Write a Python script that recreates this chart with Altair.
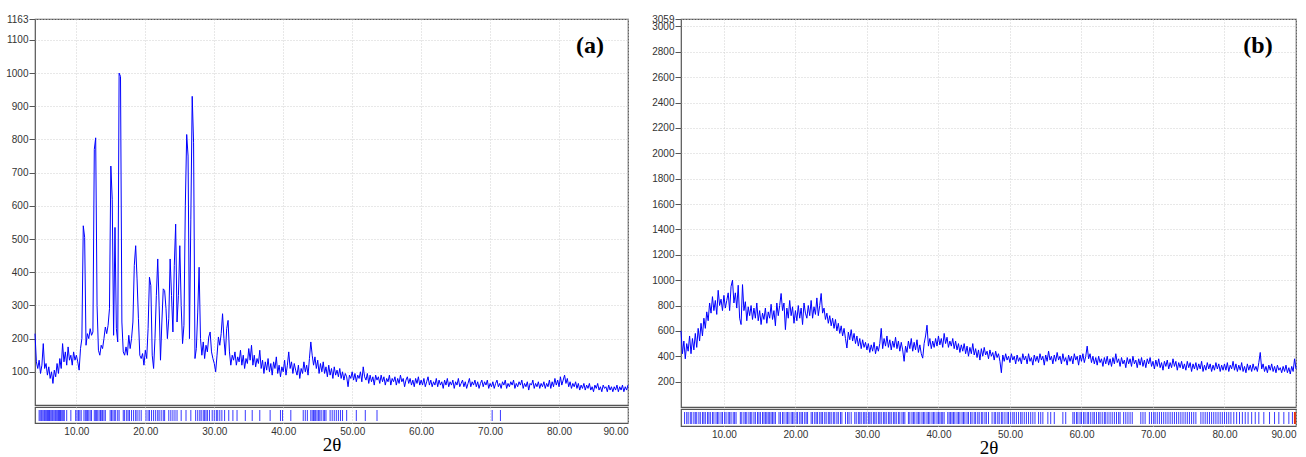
import altair as alt
import pandas as pd

# ---------------- data ----------------
X_START = 4.0
X_STEP = 0.2

# panel (a): intensity every 0.2 deg from 4.0 to 90.0
a_int = [
    215,130,110,135,95,120,185,110,125,90,
    115,80,100,65,105,85,125,95,140,110,
    185,130,160,120,175,135,150,120,160,135,
    150,130,105,170,200,540,505,180,215,200,
    230,210,220,770,805,300,165,150,180,170,
    200,235,215,240,290,720,620,210,535,230,
    190,1000,990,250,160,150,175,150,210,170,
    200,250,420,480,380,260,150,140,155,120,
    165,140,230,385,360,150,110,200,330,440,
    300,135,250,350,345,290,200,260,440,330,
    220,420,545,250,330,480,300,185,240,600,
    815,750,200,560,930,790,140,170,280,415,
    200,150,190,140,180,160,205,220,160,140,
    125,100,150,205,180,215,275,200,150,230,
    255,160,120,150,135,160,120,145,130,165,
    120,150,110,140,125,170,135,180,120,150,
    115,140,125,165,110,135,95,130,105,140,
    100,125,90,130,110,145,95,120,85,115,
    100,135,90,120,160,110,130,95,125,105,
    90,120,80,110,95,130,100,120,90,140,
    190,150,120,145,110,135,95,125,100,130,
    95,115,85,120,90,110,80,115,90,105,
    85,110,80,100,75,95,85,55,90,80,
    100,75,95,70,90,80,100,70,115,85,
    75,95,65,90,70,85,60,90,75,85,
    65,90,70,85,60,80,70,90,60,80,
    70,85,60,80,65,90,70,80,55,75,
    85,65,80,60,75,55,80,65,85,60,
    75,60,80,55,70,85,60,75,55,70,
    60,80,55,75,60,70,50,75,60,80,
    55,70,60,75,50,70,60,80,55,65,
    75,55,70,50,65,80,55,70,60,75,
    55,70,50,65,75,55,70,60,75,50,
    65,55,70,50,65,75,55,65,50,70,
    60,75,50,65,55,70,60,75,50,65,
    55,70,60,75,50,65,55,70,45,65,
    60,75,50,65,55,70,50,65,55,70,
    50,65,55,75,50,70,55,80,60,75,
    55,85,60,75,90,65,80,55,70,50,
    65,55,70,50,65,45,60,50,65,45,
    60,50,65,45,55,40,60,50,65,45,
    55,40,60,50,55,40,60,45,55,40,
    55,45,60,40,55,45,60,40,55,45,
    60,
]

# panel (b): intensity every 0.2 deg from 4.0 to 90.0
b_int = [
    600,420,520,380,500,440,560,420,540,450,
    580,470,620,520,660,560,700,620,750,680,
    820,740,870,760,840,730,920,800,850,760,
    880,780,840,900,760,950,1000,820,900,780,
    960,700,650,965,760,830,680,790,720,800,
    690,780,700,820,680,760,650,740,690,780,
    660,750,700,810,690,760,640,820,720,800,
    895,760,820,610,780,700,840,720,790,660,
    760,680,800,700,780,650,820,740,700,800,
    720,840,700,790,730,860,720,800,895,740,
    780,690,740,660,720,640,700,620,690,600,
    660,580,640,560,620,540,465,590,530,610,
    520,580,500,560,480,540,460,530,470,510,
    450,500,430,490,440,510,420,480,440,500,
    620,460,540,480,560,470,530,450,520,470,
    550,460,520,440,510,450,360,480,430,520,
    460,540,440,510,450,530,430,490,420,385,
    500,560,645,480,540,460,520,470,540,480,
    560,490,540,470,580,500,550,470,520,480,
    540,460,520,450,500,430,490,440,500,420,
    480,400,470,420,500,410,460,390,450,370,
    460,400,470,410,440,380,450,400,430,370,
    440,390,420,360,270,410,360,420,370,400,
    350,420,370,400,340,410,360,390,340,420,
    370,400,340,420,360,390,330,410,360,400,
    350,420,370,400,330,410,360,440,370,400,
    340,410,360,430,370,400,340,420,360,390,
    330,410,360,400,340,420,370,400,330,410,
    360,420,350,400,480,380,420,350,400,340,
    390,330,400,350,380,320,390,340,400,330,
    380,320,390,340,420,350,380,320,390,340,
    370,310,390,340,380,320,400,340,370,310,
    380,330,390,320,370,310,380,340,390,320,
    360,300,370,320,380,310,350,290,360,320,
    370,300,350,310,380,320,360,290,350,310,
    360,300,340,290,360,310,350,280,340,300,
    350,290,340,300,360,280,330,290,350,300,
    340,280,330,290,350,300,340,280,330,290,
    340,290,350,280,330,300,360,290,340,280,
    330,290,350,280,320,270,340,290,330,280,
    340,290,320,280,350,430,300,340,280,320,
    270,330,290,340,280,320,270,330,290,310,
    270,320,280,330,270,310,260,320,280,380,
    300,
]

# reference-pattern tick positions (2theta)
a_ticks = [
    4.6, 4.75, 4.9, 5.0, 5.15, 5.3, 5.4, 5.55, 5.7, 5.8, 5.95, 6.1, 6.2, 6.35,
    6.5, 6.6, 6.75, 6.9, 7.0, 7.15, 7.3, 7.4, 7.55, 7.7, 7.8, 7.95, 8.1, 8.25,
    8.6, 9.2, 9.9, 10.1, 10.3, 10.5, 10.7, 11.1, 11.3, 11.5, 11.6, 11.8, 12.0,
    12.2, 12.6, 12.8, 12.9, 13.1, 13.3, 13.5, 13.6, 13.8, 14.0, 14.2, 14.9, 15.1,
    15.3, 15.5, 15.7, 16.0, 16.2, 16.8, 17.0, 17.3, 17.5, 17.7, 18.0, 18.3, 18.6,
    18.8, 19.1, 19.4, 20.1, 20.4, 20.6, 20.9, 21.2, 21.5, 21.8, 22.0, 22.3, 22.6,
    22.8, 23.4, 23.7, 24.0, 24.3, 24.6, 25.2, 25.9, 26.6, 27.3, 27.6, 27.9, 28.1,
    28.4, 28.6, 28.8, 29.0, 29.3, 29.7, 30.0, 30.3, 30.5, 30.8, 31.1, 31.5, 32.1,
    32.7, 33.3, 34.5, 35.5, 36.6, 38.1, 39.6, 39.9, 41.1, 42.9, 43.2, 43.5, 44.0,
    44.2, 44.4, 44.5, 44.7, 44.9, 45.1, 45.3, 45.5, 45.8, 46.0, 46.2, 46.8, 47.1,
    47.4, 47.7, 48.0, 48.3, 48.6, 49.2, 50.6, 51.9, 53.6, 70.3, 71.5,
]

b_ticks = [
    4.5,4.8,5.0,5.3,5.5,5.8,6.0,6.2,6.5,6.7,7.0,7.2,7.4,7.7,7.9,8.1,8.4,8.6,8.9,9.1,9.3,9.6,9.8,
    10.1,10.3,10.6,10.8,11.0,11.3,11.5,11.7,12.3,12.5,12.8,13.0,13.2,13.5,13.7,13.9,14.2,14.4,14.7,14.9,
    15.1,15.4,15.6,15.8,16.0,16.2,16.4,16.6,16.8,17.0,17.2,17.7,17.9,18.2,18.4,18.7,18.9,19.1,19.4,19.6,19.8,
    20.1,20.3,20.6,20.8,21.0,21.3,21.5,21.7,22.2,22.4,22.7,22.9,23.1,23.4,23.6,23.8,24.1,24.3,24.6,24.8,
    25.0,25.3,25.5,25.8,26.0,26.3,26.5,27.0,27.3,27.5,27.8,28.3,28.5,28.8,29.0,29.2,29.5,29.7,29.9,
    30.2,30.4,30.6,30.9,31.1,31.3,31.6,31.8,32.0,32.3,32.5,32.7,33.0,33.2,33.4,33.7,33.9,34.1,34.4,34.6,34.9,35.1,35.3,
    35.8,36.0,36.3,36.5,36.7,37.0,37.2,37.4,37.7,37.9,38.1,38.4,38.6,38.8,39.1,39.3,39.5,39.8,
    40.0,40.2,40.4,40.6,40.8,41.3,41.5,41.7,41.9,42.1,42.3,42.6,42.8,43.0,43.3,43.5,43.7,44.0,44.2,44.5,44.7,
    45.0,45.2,45.5,45.7,46.0,46.2,46.5,46.7,47.0,47.5,47.8,48.0,48.3,48.5,48.8,49.0,49.3,49.6,49.8,
    50.1,50.4,50.6,50.9,51.2,51.5,51.7,52.0,52.3,52.6,52.9,53.2,53.5,54.0,54.3,54.6,55.3,55.7,56.2,
    57.4,57.8,58.8,59.0,59.3,59.5,59.8,60.0,60.3,60.5,60.8,61.0,61.3,61.6,61.8,62.1,62.4,62.6,62.9,63.2,
    63.4,63.7,64.0,64.3,64.6,64.9,65.2,65.4,65.9,66.2,66.5,66.8,67.1,68.3,68.6,68.9,69.5,69.8,
    70.1,70.3,70.6,70.9,71.2,71.5,71.8,72.1,72.4,72.7,73.0,73.3,73.6,73.9,74.2,74.5,74.8,75.1,75.4,75.7,76.0,
    76.7,77.0,77.3,77.6,77.9,78.2,78.5,78.8,79.1,79.4,79.7,
    80.0,80.3,80.6,80.9,81.3,81.7,82.1,82.5,82.9,83.3,83.8,84.3,84.8,85.5,86.3,87.0,87.6,88.3,89.0,89.5,
]
b_red_ticks = [89.85]

x_labels = [10, 20, 30, 40, 50, 60, 70, 80, 90]
a_yticks = [100, 200, 300, 400, 500, 600, 700, 800, 900, 1000, 1100, 1163]
b_yticks = [200, 400, 600, 800, 1000, 1200, 1400, 1600, 1800, 2000, 2200,
            2400, 2600, 2800, 3000, 3059]
a_ymax = 1163
b_ymax = 3059
X_DOMAIN = [4, 90]

# ---------------- styling ----------------
LINE_BLUE = "#0000ff"
TICK_BLUE = "#3a3aff"
GRID = "#d0d0d0"
AX = "#555555"
LBL = "#333333"
SANS = "Liberation Sans"
SERIF = "Liberation Serif"


def make_df(vals):
    return pd.DataFrame({
        "t": [round(X_START + X_STEP * i, 1) for i in range(len(vals))],
        "i": vals,
    })


def panel(vals, ymax, yticks, ticks, red_ticks, label, w, h, sh):
    xs = alt.Scale(domain=X_DOMAIN, nice=False, zero=False)
    main_x_axis = alt.Axis(values=x_labels, labels=False, ticks=False, domain=False,
                           grid=True, gridDash=[1, 2], gridColor=GRID, title=None,
                           labelPadding=0, minExtent=0, maxExtent=0)
    y_axis = alt.Axis(values=yticks, format="d",
                      labelFont=SANS, labelFontSize=10, labelColor=LBL,
                      labelOverlap=False,
                      tickColor=AX, tickSize=6, domain=False,
                      grid=True, gridDash=[1, 2], gridColor=GRID, title=None,
                      labelPadding=1)
    line = alt.Chart(make_df(vals)).mark_line(color=LINE_BLUE, strokeWidth=1).encode(
        x=alt.X("t:Q", scale=xs, axis=main_x_axis),
        y=alt.Y("i:Q", scale=alt.Scale(domain=[0, ymax], nice=False, zero=True), axis=y_axis),
    )
    lab = alt.Chart(pd.DataFrame({"s": [label]})).mark_text(
        font=SERIF, fontSize=24, fontWeight="bold", color="black",
        align="center", baseline="middle").encode(
        x=alt.value(w - 38), y=alt.value(27), text="s:N")
    main = alt.layer(line, lab).properties(width=w, height=h)

    strip_axis = alt.Axis(values=x_labels, format=".2f", labelFont=SANS, labelFontSize=10,
                          labelColor=LBL, ticks=False, domain=False, grid=True,
                          gridDash=[1, 2], gridColor=GRID, labelPadding=3,
                          title="2θ", titleFont=SERIF, titleFontSize=19,
                          titleFontWeight="normal", titleColor="black", titlePadding=-1)
    tdf = pd.DataFrame({"t": ticks})
    rules = alt.Chart(tdf).mark_rule(color=TICK_BLUE, strokeWidth=1).encode(
        x=alt.X("t:Q", scale=xs, axis=strip_axis),
        y=alt.value(3), y2=alt.value(sh - 2))
    layers = [rules]
    if red_ticks:
        rdf = pd.DataFrame({"t": red_ticks})
        layers.append(alt.Chart(rdf).mark_rule(color="#e03010", strokeWidth=2).encode(
            x=alt.X("t:Q", scale=xs), y=alt.value(3), y2=alt.value(sh - 2)))
    strip = alt.layer(*layers).properties(width=w, height=sh)
    return alt.vconcat(main, strip, spacing=0)


left = panel(a_int, a_ymax, a_yticks, a_ticks, [], "(a)", 593, 386, 16)
right = panel(b_int, b_ymax, b_yticks, b_ticks, b_red_ticks, "(b)", 615, 388, 17)

chart = alt.hconcat(left, right, spacing=20).properties(
    padding={"left": 5, "top": 13, "right": 5, "bottom": 0},
    background="white",
).configure_view(stroke=AX, strokeWidth=1.2)

chart.save("out.html", embed_options={"renderer": "svg", "actions": False})
